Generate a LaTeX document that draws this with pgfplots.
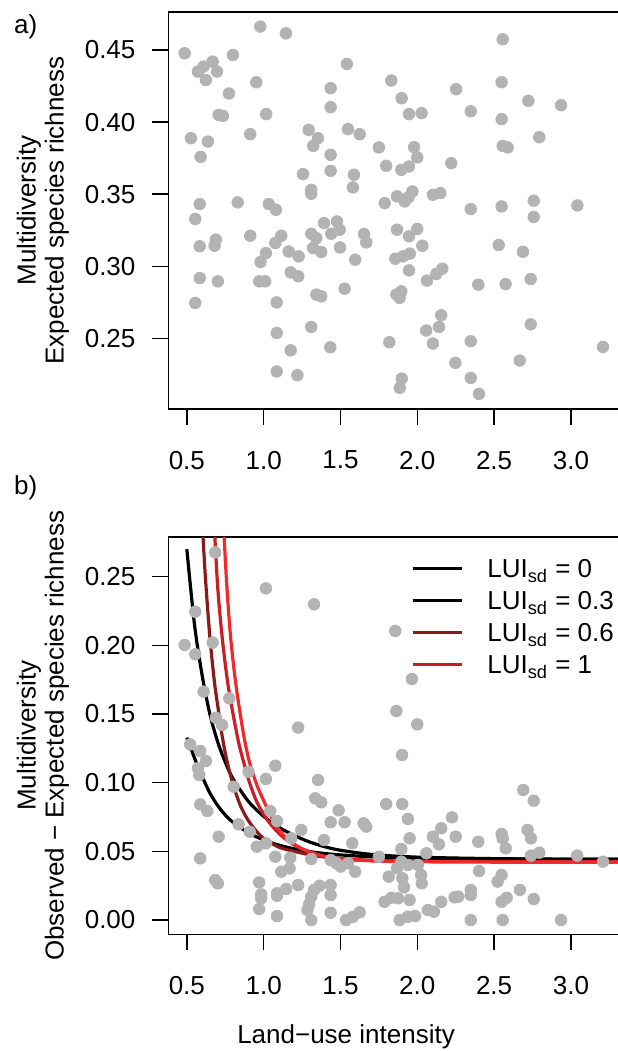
\documentclass[border=0pt]{standalone}
\usepackage{fontspec}
\setmainfont{Liberation Sans}
\usepackage{pgfplots}
\pgfplotsset{compat=1.18}
\definecolor{ptgray}{RGB}{179,179,179}
\definecolor{cdark}{RGB}{139,26,26}
\definecolor{cmid}{RGB}{200,30,38}
\definecolor{cbright}{RGB}{238,42,42}
\pgfplotsset{
  rstyle/.style={
    scale only axis, width=226.6pt,
    xmin=0.38, xmax=3.33,
    axis line style={line width=0.75pt},
    tick align=inside, major tick length=-8pt,
    every tick/.style={line width=0.75pt, black},
    xtick pos=left, ytick pos=left,
    xtick={0.5,1.0,1.5,2.0,2.5,3.0},
    scaled ticks=false,
    /pgf/number format/assume math mode=true,
    ticklabel style={font=\fontsize{13}{15}\selectfont},
    xticklabel style={anchor=north, inner sep=0pt, yshift=-20.85pt,
      /pgf/number format/.cd, fixed, fixed zerofill, precision=1},
    yticklabel style={anchor=east, inner sep=0pt, xshift=-16.3pt,
      /pgf/number format/.cd, fixed, fixed zerofill, precision=2},
    ylabel style={at={(axis description cs:-0.277,0.5)}, anchor=center, align=center,
      font=\fontsize{13}{14}\selectfont},
    pts/.style={only marks, mark=*, mark size=2.9pt, color=ptgray, mark options={draw=none, fill=ptgray}},
  }
}
\begin{document}
\fontsize{13pt}{15pt}\selectfont
\begin{tikzpicture}
\begin{axis}[rstyle, at={(84.2pt,-204.5pt)}, anchor=south west, height=198.5pt,
  ymin=0.2011, ymax=0.4763, ytick={0.25,0.30,0.35,0.40,0.45},
  ylabel={Multidiversity\\Expected species richness}]
\addplot[pts] coordinates {
(0.978,0.4662)(1.145,0.4615)(0.486,0.4477)(0.800,0.4465)(0.668,0.4419)(0.609,0.4385)
(0.572,0.4350)(0.696,0.4350)(0.624,0.4292)(0.952,0.4276)(0.774,0.4198)(0.707,0.4050)
(0.735,0.4043)(1.017,0.4055)(0.527,0.3888)(0.637,0.3865)(0.913,0.3916)(0.590,0.3759)
(0.584,0.3432)(0.831,0.3443)(1.033,0.3432)(1.080,0.3392)(0.555,0.3328)(0.913,0.3212)
(1.115,0.3212)(1.076,0.3162)(0.689,0.3185)(0.681,0.3143)(0.584,0.3139)(1.015,0.3092)
(1.163,0.3103)(1.228,0.3069)(0.980,0.3030)(1.176,0.2958)(1.225,0.2931)(0.584,0.2919)
(0.702,0.2896)(0.971,0.2896)(1.010,0.2896)(0.555,0.2746)(1.085,0.2750)(1.085,0.2538)
(1.176,0.2418)(1.085,0.2271)(1.220,0.2245)
(1.542,0.4403)(1.831,0.4288)(2.253,0.4228)(1.436,0.4235)(1.898,0.4165)(1.436,0.4103)
(1.946,0.4055)(2.028,0.4062)(1.293,0.3946)(1.353,0.3888)(1.323,0.3835)(1.549,0.3951)
(1.625,0.3916)(1.436,0.3773)(1.750,0.3824)(1.979,0.3826)(2.000,0.3755)(1.256,0.3639)
(1.436,0.3662)(1.588,0.3635)(1.798,0.3697)(1.896,0.3669)(1.946,0.3692)(2.221,0.3715)
(1.310,0.3531)(1.310,0.3503)(1.581,0.3547)(1.788,0.3438)(1.868,0.3485)(1.918,0.3450)
(1.944,0.3480)(1.968,0.3519)(2.102,0.3496)(2.150,0.3508)(1.393,0.3300)(1.477,0.3311)
(1.310,0.3226)(1.343,0.3196)(1.440,0.3226)(1.495,0.3254)(1.321,0.3127)(1.375,0.3099)
(1.497,0.3131)(1.653,0.3224)(1.668,0.3166)(1.596,0.3046)(1.868,0.3254)(2.000,0.3259)
(1.946,0.3208)(2.033,0.3143)(1.857,0.3053)(1.907,0.3069)(1.951,0.3088)(1.946,0.2972)
(2.063,0.2901)(2.124,0.2947)(2.163,0.2984)(1.343,0.2804)(1.375,0.2792)(1.527,0.2845)
(1.864,0.2804)(1.885,0.2781)(1.896,0.2827)(1.310,0.2580)(1.434,0.2439)(1.818,0.2474)
(2.156,0.2661)(2.058,0.2555)(2.141,0.2580)(2.102,0.2465)(2.248,0.2331)(1.899,0.2222)
(1.886,0.2158)
(2.556,0.4574)(2.549,0.4276)(2.723,0.4147)(2.936,0.4117)(2.348,0.4075)(2.549,0.4020)
(2.794,0.3895)(2.556,0.3835)(2.588,0.3824)(2.348,0.3397)(2.549,0.3415)(2.758,0.3455)
(2.758,0.3342)(3.042,0.3422)(2.530,0.3148)(2.688,0.3101)(2.397,0.2873)(2.575,0.2877)
(2.738,0.2912)(2.738,0.2598)(2.348,0.2481)(3.209,0.2441)(2.667,0.2347)(2.348,0.2227)
(2.402,0.2116)
};
\end{axis}
\begin{axis}[rstyle, at={(84.2pt,-467.15pt)}, anchor=south west, height=198.65pt,
  ymin=-0.0104, ymax=0.2789, ytick={0,0.05,0.10,0.15,0.20,0.25},
  ylabel={Multidiversity\\Observed − Expected species richness},
  xlabel={Land−use intensity},
  xlabel style={at={(axis description cs:0.392,-0.2572)}, anchor=center, font=\fontsize{13}{15}\selectfont},
  legend style={at={(axis description cs:0.5353,0.9439)}, anchor=north west, draw=none, fill=none,
    inner sep=0pt, outer sep=0pt, row sep={16pt,between origins}, column sep=12pt,
    font=\fontsize{13}{15}\selectfont, nodes={inner sep=0pt, anchor=base west}},
  legend cell align=left,
  legend image code/.code={\draw[#1, line width=1.7pt] (0pt,4.5pt) -- (24.5pt,4.5pt);},
]
\addplot[pts, forget plot] coordinates {
(0.685,0.2677)(1.015,0.2415)(0.555,0.2245)(0.486,0.2003)(0.668,0.2020)(0.555,0.1935)
(0.609,0.1663)(0.776,0.1614)(0.689,0.1473)(0.729,0.1420)(1.225,0.1401)(0.522,0.1279)
(0.587,0.1231)(0.624,0.1158)(0.572,0.1105)(0.581,0.1056)(0.902,0.1080)(1.076,0.1124)
(1.015,0.1027)(0.805,0.0971)(0.587,0.0842)(0.633,0.0794)(0.837,0.0697)(1.043,0.0794)
(1.087,0.0721)(1.245,0.0656)(0.909,0.0643)(0.707,0.0607)(0.956,0.0534)(1.015,0.0559)
(1.180,0.0595)(0.587,0.0449)(1.076,0.0461)(1.173,0.0454)(1.115,0.0352)(1.169,0.0376)
(0.685,0.0291)(0.702,0.0267)(0.971,0.0274)(0.984,0.0187)(0.984,0.0158)(1.087,0.0195)
(1.087,0.0177)(1.147,0.0226)(1.225,0.0255)(0.971,0.0080)(1.087,0.0029)
(1.328,0.2299)(1.857,0.2105)(1.965,0.1755)(1.864,0.1522)(2.000,0.1425)(1.901,0.1202)
(1.354,0.1020)(1.336,0.0886)(1.375,0.0857)(1.488,0.0799)(1.436,0.0712)(1.527,0.0712)
(1.651,0.0704)(1.668,0.0680)(1.393,0.0583)(1.577,0.0559)(1.798,0.0845)(1.902,0.0845)
(1.939,0.0736)(1.950,0.0595)(1.896,0.0517)(2.226,0.0748)(2.156,0.0668)(2.102,0.0607)
(2.141,0.0551)(2.250,0.0607)(2.059,0.0486)(1.310,0.0444)(1.436,0.0437)(1.473,0.0413)
(1.501,0.0389)(1.549,0.0413)(1.750,0.0461)(1.596,0.0352)(1.868,0.0377)(1.814,0.0316)
(1.896,0.0425)(1.939,0.0401)(2.004,0.0401)(1.903,0.0304)(1.914,0.0238)(2.025,0.0328)
(2.029,0.0267)(1.310,0.0170)(1.328,0.0219)(1.364,0.0250)(1.436,0.0255)(1.436,0.0182)
(1.296,0.0115)(1.285,0.0073)(1.310,0.0000)(1.436,0.0053)(1.537,0.0000)(1.581,0.0024)
(1.625,0.0056)(1.787,0.0133)(1.831,0.0162)(1.874,0.0158)(1.950,0.0146)(1.885,0.0000)
(1.939,0.0024)(1.986,0.0029)(2.069,0.0073)(2.108,0.0061)(2.156,0.0133)(2.243,0.0165)
(2.690,0.0947)(2.758,0.0869)(2.397,0.0570)(2.549,0.0626)(2.556,0.0595)(2.576,0.0522)
(2.718,0.0656)(2.740,0.0595)(2.794,0.0490)(2.740,0.0469)(3.041,0.0469)(3.209,0.0425)
(2.402,0.0357)(2.549,0.0328)(2.523,0.0280)(2.267,0.0170)(2.348,0.0219)(2.348,0.0182)
(2.549,0.0133)(2.582,0.0162)(2.668,0.0219)(2.758,0.0153)(2.348,0.0000)(2.556,0.0000)
(2.936,0.0000)
};
% fitted curves
\addplot[black, line width=1.6pt, smooth, forget plot] coordinates {
(0.50,0.1328)(0.55,0.1180)(0.60,0.1045)(0.65,0.0925)(0.70,0.0835)(0.75,0.0765)(0.80,0.0712)
(0.90,0.0636)(1.00,0.0583)(1.10,0.0545)(1.20,0.0518)(1.30,0.0498)(1.40,0.0484)(1.50,0.0474)
(1.70,0.0461)(2.00,0.0451)(2.50,0.0445)(3.00,0.0443)(3.40,0.0442)};
\addplot[black, line width=1.6pt, smooth, forget plot] coordinates {
(0.50,0.2700)(0.55,0.2150)(0.60,0.1780)(0.65,0.1500)(0.70,0.1300)(0.75,0.1150)(0.80,0.1030)
(0.90,0.0865)(1.00,0.0755)(1.10,0.0675)(1.20,0.0615)(1.30,0.0568)(1.40,0.0533)(1.50,0.0508)
(1.70,0.0478)(2.00,0.0458)(2.50,0.0447)(3.00,0.0443)(3.40,0.0442)};
\addplot[cdark, line width=1.6pt, smooth, forget plot] coordinates {
(0.60,0.2900)(0.62,0.2510)(0.65,0.2060)(0.68,0.1730)(0.70,0.1570)(0.73,0.1340)(0.76,0.1165)
(0.80,0.0990)(0.85,0.0830)(0.90,0.0725)(0.95,0.0650)(1.00,0.0595)(1.10,0.0530)(1.20,0.0500)
(1.30,0.0475)(1.40,0.0458)(1.50,0.0447)(1.70,0.0435)(2.00,0.0428)(2.50,0.0425)(3.00,0.0424)(3.40,0.0424)};
\addplot[cmid, line width=1.6pt, smooth, forget plot] coordinates {
(0.675,0.2950)(0.70,0.2440)(0.73,0.2060)(0.77,0.1700)(0.83,0.1330)(0.87,0.1150)(0.91,0.0995)
(0.96,0.0850)(1.03,0.0720)(1.10,0.0630)(1.16,0.0575)(1.25,0.0515)(1.35,0.0475)(1.45,0.0452)
(1.60,0.0437)(1.80,0.0429)(2.10,0.0425)(2.60,0.0423)(3.40,0.0422)};
\addplot[cbright, line width=1.6pt, smooth, forget plot] coordinates {
(0.735,0.2950)(0.76,0.2440)(0.785,0.2060)(0.82,0.1710)(0.87,0.1347)(0.91,0.1140)(0.956,0.0983)
(1.00,0.0870)(1.065,0.0716)(1.12,0.0630)(1.173,0.0571)(1.25,0.0520)(1.35,0.0477)(1.45,0.0453)
(1.60,0.0437)(1.80,0.0429)(2.10,0.0425)(2.60,0.0423)(3.40,0.0422)};
\addlegendimage{black}
\addlegendentry{LUI\textsubscript{sd} = 0}
\addlegendimage{black}
\addlegendentry{LUI\textsubscript{sd} = 0.3}
\addlegendimage{cdark}
\addlegendentry{LUI\textsubscript{sd} = 0.6}
\addlegendimage{cmid}
\addlegendentry{LUI\textsubscript{sd} = 1}
\end{axis}
\node[anchor=base west, inner sep=0pt] at (6.9pt,-16.75pt) {a)};
\node[anchor=base west, inner sep=0pt] at (6.9pt,-247pt) {b)};
\pgfresetboundingbox
\useasboundingbox (0pt,0pt) rectangle (308.5pt,-525.5pt);
\end{tikzpicture}
\end{document}
